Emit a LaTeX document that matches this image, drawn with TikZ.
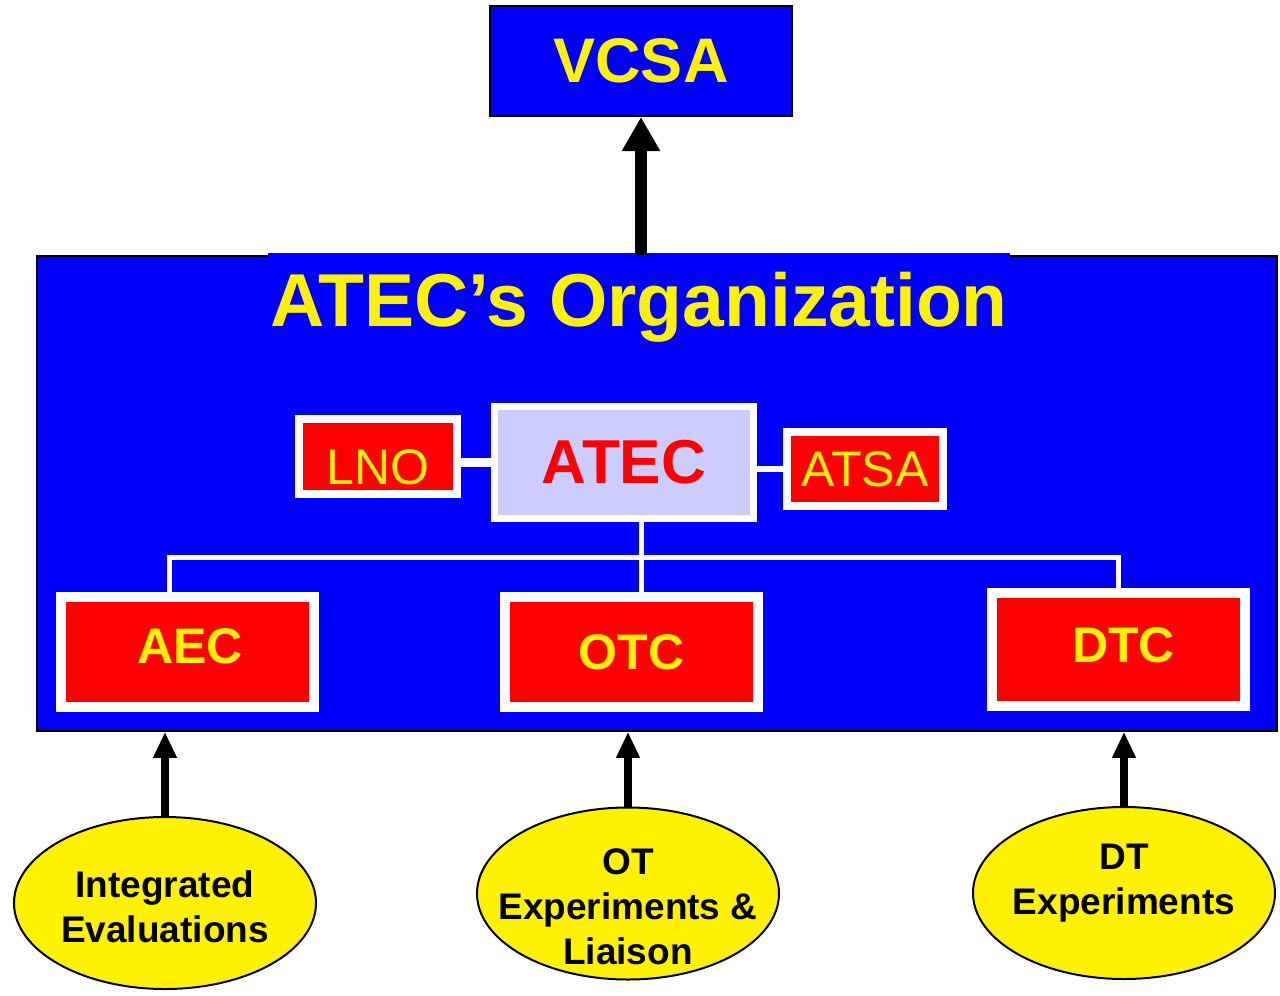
\documentclass[tikz,border=0pt]{standalone}
\usepackage{fontspec}
\setmainfont{Liberation Sans}
\usepackage{tikz}
\usetikzlibrary{arrows.meta,shapes.geometric}
\definecolor{lavender}{RGB}{204,204,255}

\begin{document}
\begin{tikzpicture}[x=1pt, y=-1pt,
    box/.style={rectangle, draw=white, fill=red, text=yellow, inner sep=0pt},
    unitbox/.style={box, line width=10pt, minimum width=253pt, minimum height=110pt, font=\fontsize{50}{60}\selectfont\bfseries},
    wire/.style={draw=white, line width=5pt},
    oval/.style={ellipse, draw=black, line width=2pt, fill=yellow, minimum width=302pt, minimum height=172pt, inner sep=0pt},
    ovaltext/.style={align=center, inner sep=0pt, font=\fontsize{37}{45}\selectfont\bfseries},
    bigarrow/.style={line width=12pt, -{Triangle[width=36pt,length=34pt]}},
    smallarrow/.style={line width=8pt, -{Triangle[width=22pt,length=26pt]}}]
    \useasboundingbox (0,0) rectangle (1280,996);
    \node[draw=black, line width=1.5pt, fill=blue, minimum width=1240pt, minimum height=475pt, inner sep=0pt] (org) at (657,493.5) {};
    \node[fill=blue, text=yellow, inner xsep=2pt, inner ysep=19pt, font=\fontsize{75}{90}\selectfont\bfseries] (title) at (639,307) {ATEC’s Organization};
    \node[draw=black, line width=2pt, fill=blue, text=yellow, minimum width=302pt, minimum height=110pt, font=\fontsize{63}{75}\selectfont\bfseries] (vcsa) at (641,61) {VCSA};
    \coordinate (busL) at (169,557);
    \coordinate (busM) at (641,557);
    \coordinate (busR) at (1118,557);
    \node[box, fill=lavender, text=red, line width=7pt, minimum width=259pt, minimum height=112pt, font=\fontsize{62}{74}\selectfont\bfseries] (atec) at (624,462.5) {ATEC};
    \node[box, line width=8pt, minimum width=158pt, minimum height=75pt, font=\fontsize{50}{60}\selectfont, text height=56pt, text depth=0pt] (lno) at (378,456.5) {LNO};
    \node[box, line width=8pt, minimum width=156pt, minimum height=74pt, font=\fontsize{50}{60}\selectfont] (atsa) at (865,469) {ATSA};
    \node[unitbox, text depth=11pt] (aec) at (187.5,652) {\hspace{5pt}AEC};
    \node[unitbox] (otc) at (631.5,652) {OTC};
    \node[unitbox, minimum height=113pt, text depth=9pt] (dtc) at (1118.5,649.5) {\hspace{10pt}DTC};
    \draw[wire, line width=9pt] (atec.west) -- (atec.west -| lno.east);
    \draw[wire, line width=6pt] (atsa.west) -- (atsa.west -| atec.east);
    \draw[wire] (busL |- aec.north) -- (busL) -- (busR) -- (busR |- dtc.north);
    \draw[wire] (busM |- atec.south) -- (busM |- otc.north);
    \draw[bigarrow] (org.north -| vcsa.south) -- (vcsa.south);
    \node[oval] (ie) at (165,903) {};
    \node[oval] (ot) at (628,893.5) {};
    \node[oval] (dt) at (1124,893) {};
    \node[ovaltext] (ietext) at (ie) [yshift=-4pt] {Integrated\\Evaluations};
    \node[ovaltext] (ottext) at (ot) [yshift=-13pt] {OT\\Experiments \&\\Liaison};
    \node[ovaltext] (dttext) at (dt) [yshift=10pt] {DT\\Experiments};
    \draw[smallarrow] (ie.north) -- (ie.north |- org.south);
    \draw[smallarrow] (ot.north) -- (ot.north |- org.south);
    \draw[smallarrow] (dt.north) -- (dt.north |- org.south);
\end{tikzpicture}
\end{document}
